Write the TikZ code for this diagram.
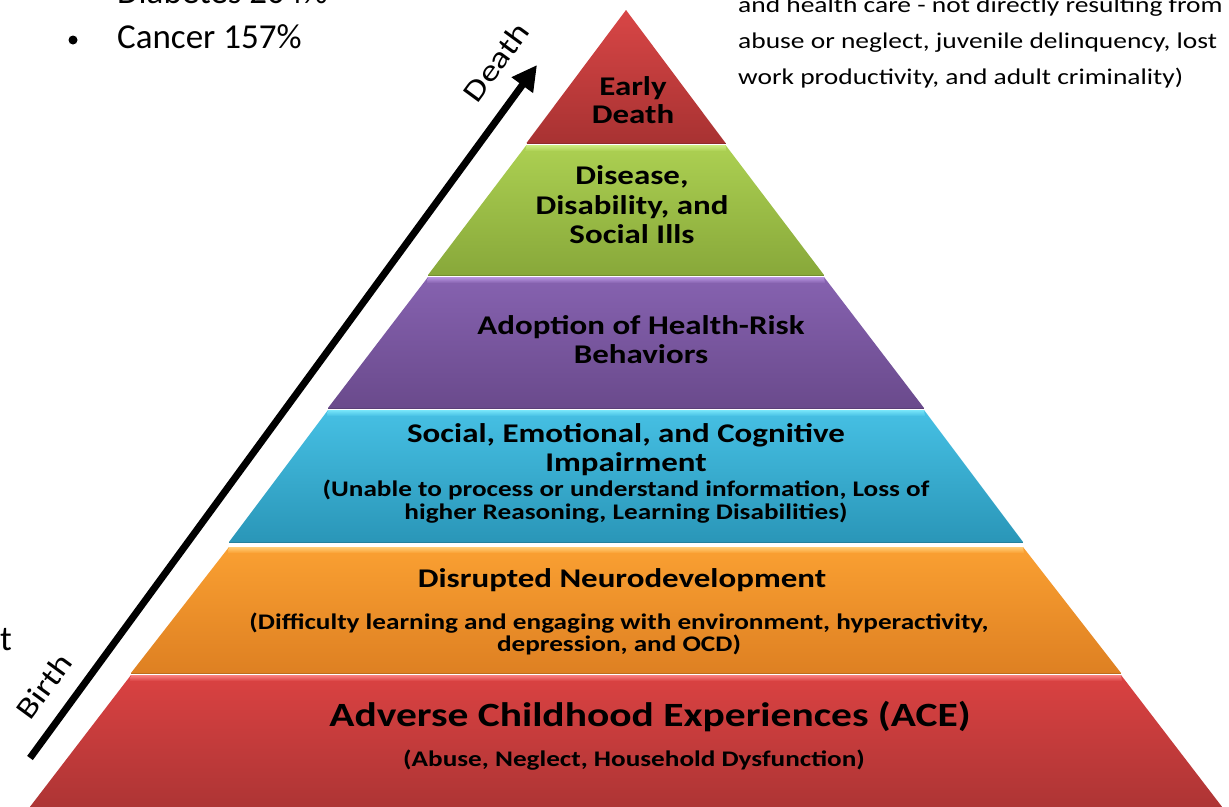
\documentclass[tikz,border=0pt]{standalone}
\usepackage{fontspec}
\setmainfont{Carlito}
\newfontfamily\cand{Carlito}[FakeStretch=1.22]
\usetikzlibrary{arrows.meta}
\definecolor{redA}{RGB}{216,70,70}
\definecolor{redB}{RGB}{168,50,50}
\definecolor{grnA}{RGB}{172,208,82}
\definecolor{grnB}{RGB}{136,168,58}
\definecolor{grnH}{RGB}{205,235,130}
\definecolor{purA}{RGB}{134,98,176}
\definecolor{purB}{RGB}{106,74,140}
\definecolor{purH}{RGB}{185,150,225}
\definecolor{bluA}{RGB}{70,192,228}
\definecolor{bluB}{RGB}{42,150,184}
\definecolor{bluH}{RGB}{120,230,250}
\definecolor{orA}{RGB}{250,160,50}
\definecolor{orB}{RGB}{222,128,34}
\definecolor{orH}{RGB}{255,205,120}
\definecolor{rdA}{RGB}{218,66,66}
\definecolor{rdB}{RGB}{172,52,52}
\definecolor{rdH}{RGB}{250,130,130}
\newcommand\pyrtier[7]{%
  \shade[top color=#5,bottom color=#6] (626-#2,-#1) -- (626+#2,-#1) -- (626+#4,-#3) -- (626-#4,-#3) -- cycle;
  \shade[top color=#7,bottom color=#5] (626-#2,-#1) -- (626+#2,-#1) -- (626+#2+1,-#1-6) -- (626-#2-1,-#1-6) -- cycle;
  \draw[#6!85!black,line width=0.8pt] (626-#4,-#3) -- (626+#4,-#3);
}
\tikzset{
  tiertxt/.style={align=center,text=black,inner sep=0pt},
  sidetxt/.style={inner sep=0pt,text=black},
}
\begin{document}
\begin{tikzpicture}[x=1pt,y=1pt]
\useasboundingbox (0,0) rectangle (1229,-806);
\clip (0,0) rectangle (1229,-806);
\fill[white] (0,0) rectangle (1229,-806);
% tiers
\pyrtier{10}{0}{143}{99.5}{redA}{redB}{redA}
\pyrtier{145}{99.5}{275}{198}{grnA}{grnB}{grnH}
\pyrtier{277}{198}{408}{298}{purA}{purB}{purH}
\pyrtier{410}{298}{542}{397}{bluA}{bluB}{bluH}
\pyrtier{547}{397}{673}{495}{orA}{orB}{orH}
\pyrtier{675}{495}{812}{600}{rdA}{rdB}{rdH}
% tier texts
\node[tiertxt,font=\cand\bfseries\fontsize{27}{28}\selectfont] (t1) at (633,-100) {Early\\Death};
\node[tiertxt,font=\cand\bfseries\fontsize{27}{29.5}\selectfont] (t2) at (632,-205) {Disease,\\Disability, and\\Social Ills};
\node[tiertxt,font=\cand\bfseries\fontsize{27}{29}\selectfont] (t3) at (641,-340) {Adoption of Health-Risk\\Behaviors};
\node[tiertxt,font=\cand\bfseries\fontsize{27}{29}\selectfont] (t4a) at (626,-450) {Social, Emotional, and Cognitive\\Impairment};
\node[tiertxt,font=\cand\bfseries\fontsize{22.3}{23}\selectfont] (t4b) at (626,-502) {(Unable to process or understand information, Loss of\\higher Reasoning, Learning Disabilities)};
\node[tiertxt,font=\cand\bfseries\fontsize{27}{29}\selectfont] (t5a) at (622,-580) {Disrupted Neurodevelopment};
\node[tiertxt,font=\cand\bfseries\fontsize{22.3}{22}\selectfont] (t5b) at (619,-634) {(Difficulty learning and engaging with environment, hyperactivity,\\depression, and OCD)};
\node[tiertxt,font=\cand\bfseries\fontsize{34}{35}\selectfont] (t6a) at (650,-717) {Adverse Childhood Experiences (ACE)};
\node[tiertxt,font=\cand\bfseries\fontsize{22.3}{23}\selectfont] (t6b) at (634,-760) {(Abuse, Neglect, Household Dysfunction)};
% arrow
\coordinate (birthend) at (30,-758);
\coordinate (deathend) at (537,-65);
\draw[line width=7pt,-{Triangle[length=25pt,width=25pt]}] (birthend) -- (deathend);
\node[sidetxt,rotate=53.8,font=\cand\fontsize{30}{30}\selectfont] (birth) at (44,-686) {Birth};
\node[sidetxt,rotate=53.8,font=\cand\fontsize{30}{30}\selectfont] (death) at (496,-62) {Death};
% cut-off side texts
\node[sidetxt,anchor=base west,font=\fontsize{35}{35}\selectfont] (diab) at (117,-3) {Diabetes 204\%};
\node[sidetxt,anchor=base west,font=\fontsize{35}{35}\selectfont] (canc) at (117,-48) {Cancer 157\%};
\fill (73,-40) circle (4.5pt);
\fill (73,5) circle (4.5pt);
\node[sidetxt,anchor=base west,align=left,font=\cand\fontsize{22.5}{36}\selectfont] (cost) at (738,-84) {and health care - not directly resulting from\\abuse or neglect, juvenile delinquency, lost\\work productivity, and adult criminality)};
\node[sidetxt,anchor=base east,font=\fontsize{35}{35}\selectfont] (tcut) at (12,-650) {t};
\end{tikzpicture}
\end{document}
